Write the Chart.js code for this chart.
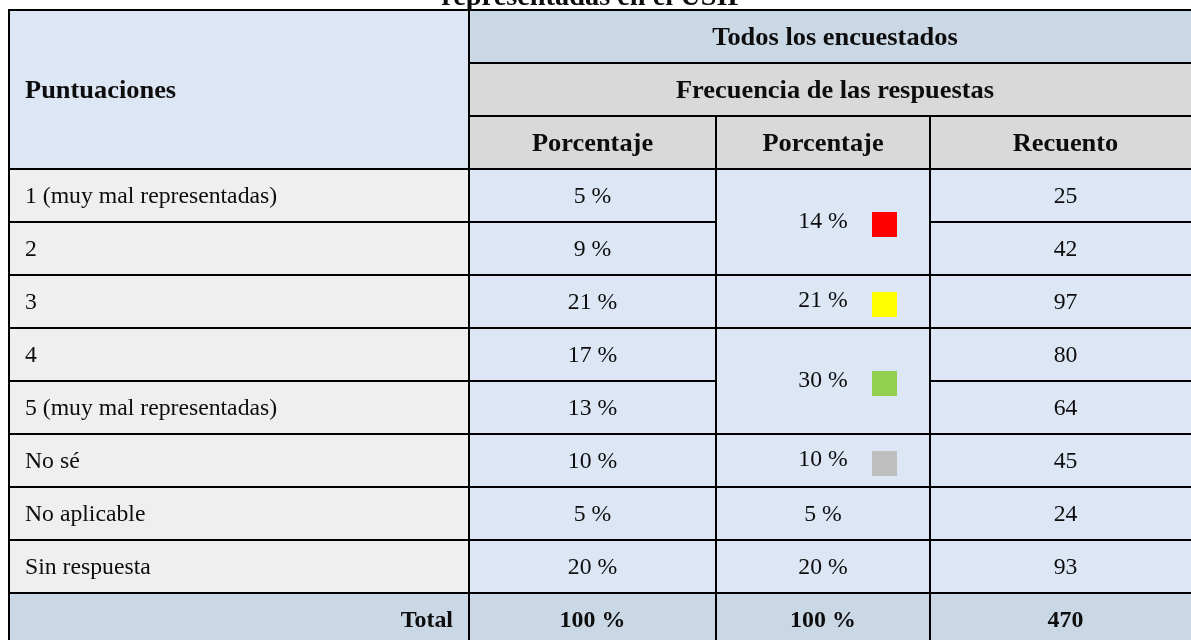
<!DOCTYPE html>
<html><head><meta charset="utf-8">
<script src="https://cdn.jsdelivr.net/npm/chart.js@4.4.1/dist/chart.umd.min.js"></script>
<style>
html,body{margin:0;padding:0;background:#fff;overflow:hidden;width:1191px;height:640px}
#wrap{position:absolute;left:0;top:0;width:1215px;height:660px}
</style>
</head><body><div id="wrap"><canvas id="c"></canvas></div>
<script>
// ---------- data ----------
const tituloVisible = 'representadas en el USIP';
const encabezadoGrupo = 'Todos los encuestados';
const encabezadoFrecuencia = 'Frecuencia de las respuestas';
const encabezadoFilas = 'Puntuaciones';
const encabezadosColumnas = ['Porcentaje', 'Porcentaje', 'Recuento'];
const categorias = ['1 (muy mal representadas)', '2', '3', '4', '5 (muy mal representadas)', 'No sé', 'No aplicable', 'Sin respuesta'];
const porcentajes = [5, 9, 21, 17, 13, 10, 5, 20];
const porcentajesAgrupados = [14, 21, 30, 10, 5, 20];
const filasPorGrupo = [2, 1, 2, 1, 1, 1];
const coloresGrupo = ['#FF0000', '#FFFF00', '#92D050', '#BFBFBF', null, null];
const recuentos = [25, 42, 97, 80, 64, 45, 24, 93];
const etiquetaTotal = 'Total';
const totalPorcentaje = 100;
const totalRecuento = 470;

// ---------- layout / style ----------
const COL_EDGES = [0, 460, 707, 921, 1192];
const BG = { light: '#DCE6F4', head: '#CAD7E5', gray: '#D9D9D9', label: '#EFEFEF' };
const FONT = 'Liberation Serif';
const BODY = { size: 22.8, sx: 1.04, weight: 'normal' };
const HEAD = { size: 25.4, sx: 1.04, weight: 'bold' };
const TOT = { size: 23, sx: 1.04, weight: 'bold' };
const TITLE = { size: 27, sx: 1.05, weight: 'bold' };
const HEADER_ROWS = 3;

const rowLabels = ['enc1', 'enc2', 'enc3', ...categorias, etiquetaTotal];

const cells = [];
cells.push({ r0: 0, r1: 2, c0: 0, c1: 0, text: encabezadoFilas, st: HEAD, align: 'left', bg: BG.light });
cells.push({ r0: 0, r1: 0, c0: 1, c1: 3, text: encabezadoGrupo, st: HEAD, align: 'center', bg: BG.head });
cells.push({ r0: 1, r1: 1, c0: 1, c1: 3, text: encabezadoFrecuencia, st: HEAD, align: 'center', bg: BG.gray });
encabezadosColumnas.forEach((t, i) => cells.push({ r0: 2, r1: 2, c0: i + 1, c1: i + 1, text: t, st: HEAD, align: 'center', bg: BG.gray }));
categorias.forEach((cat, i) => {
  const r = HEADER_ROWS + i;
  cells.push({ r0: r, r1: r, c0: 0, c1: 0, text: cat, st: BODY, align: 'left', bg: BG.label });
  cells.push({ r0: r, r1: r, c0: 1, c1: 1, text: porcentajes[i] + ' %', st: BODY, align: 'center', bg: BG.light });
  cells.push({ r0: r, r1: r, c0: 3, c1: 3, text: String(recuentos[i]), st: BODY, align: 'center', bg: BG.light });
});
let rr = HEADER_ROWS;
porcentajesAgrupados.forEach((v, g) => {
  cells.push({ r0: rr, r1: rr + filasPorGrupo[g] - 1, c0: 2, c1: 2, text: v + ' %', st: BODY, align: 'center', bg: BG.light, marker: coloresGrupo[g] });
  rr += filasPorGrupo[g];
});
const rt = rowLabels.length - 1;
cells.push({ r0: rt, r1: rt, c0: 0, c1: 0, text: etiquetaTotal, st: TOT, align: 'right', bg: BG.head });
cells.push({ r0: rt, r1: rt, c0: 1, c1: 1, text: totalPorcentaje + ' %', st: TOT, align: 'center', bg: BG.head });
cells.push({ r0: rt, r1: rt, c0: 2, c1: 2, text: totalPorcentaje + ' %', st: TOT, align: 'center', bg: BG.head });
cells.push({ r0: rt, r1: rt, c0: 3, c1: 3, text: String(totalRecuento), st: TOT, align: 'center', bg: BG.head });

// datasets: one per column, floating bars spanning each cell
const datasets = [0, 1, 2, 3].map(c => {
  const data = rowLabels.map(() => null);
  const colors = rowLabels.map(() => 'rgba(0,0,0,0)');
  cells.filter(cl => cl.c0 === c).forEach(cl => {
    for (let r = cl.r0; r <= cl.r1; r++) {
      data[r] = [COL_EDGES[cl.c0], COL_EDGES[cl.c1 + 1]];
      colors[r] = cl.bg;
    }
  });
  return { data, backgroundColor: colors, borderWidth: 0, grouped: false, categoryPercentage: 1, barPercentage: 1 };
});

function drawText(ctx, text, x, y, align, st) {
  ctx.save();
  ctx.translate(x, y);
  ctx.scale(st.sx, 1);
  ctx.font = st.weight + ' ' + st.size + 'px ' + FONT;
  ctx.textAlign = align;
  ctx.textBaseline = 'alphabetic';
  ctx.fillStyle = '#0d0d0d';
  ctx.fillText(text, 0, 0);
  ctx.restore();
}

const tablePlugin = {
  id: 'tablePlugin',
  afterDatasetsDraw(chart) {
    const ctx = chart.ctx, xs = chart.scales.x, ys = chart.scales.y;
    ctx.save();
    ctx.strokeStyle = '#000';
    ctx.lineWidth = 2;
    cells.forEach(cl => {
      const x0 = Math.round(xs.getPixelForValue(COL_EDGES[cl.c0]));
      const x1 = Math.round(xs.getPixelForValue(COL_EDGES[cl.c1 + 1]));
      const ya = ys.getPixelForValue(cl.r0 - 0.5), yb = ys.getPixelForValue(cl.r1 + 0.5);
      const y0 = Math.round(Math.min(ya, yb)), y1 = Math.round(Math.max(ya, yb));
      ctx.strokeRect(x0, y0, x1 - x0, y1 - y0);
    });
    cells.forEach(cl => {
      const x0 = xs.getPixelForValue(COL_EDGES[cl.c0]);
      const x1 = xs.getPixelForValue(COL_EDGES[cl.c1 + 1]);
      const ya = ys.getPixelForValue(cl.r0 - 0.5), yb = ys.getPixelForValue(cl.r1 + 0.5);
      const cy = (ya + yb) / 2;
      let tx, ty = cy + 0.335 * cl.st.size;
      if (cl.align === 'left') tx = x0 + 16;
      else if (cl.align === 'right') tx = x1 - 16;
      else tx = (x0 + x1) / 2;
      if (cl.marker) {
        ty -= 2;
        ctx.fillStyle = cl.marker;
        ctx.fillRect(Math.round(x0 + 156), Math.round(cy - 10), 25, 25);
      }
      drawText(ctx, cl.text, tx, ty, cl.align, cl.st);
    });
    drawText(ctx, tituloVisible, 593, 5, 'center', TITLE);
    ctx.restore();
  }
};

new Chart(document.getElementById('c'), {
  type: 'bar',
  data: { labels: rowLabels, datasets },
  options: {
    indexAxis: 'y',
    responsive: true,
    maintainAspectRatio: false,
    animation: false,
    layout: { padding: { left: 9, top: 10, right: 14, bottom: 14 } },
    plugins: { legend: { display: false }, tooltip: { enabled: false }, title: { display: false } },
    scales: {
      x: { type: 'linear', min: 0, max: COL_EDGES[COL_EDGES.length - 1], display: false, grid: { display: false } },
      y: { type: 'category', display: false, offset: true, grid: { display: false } }
    }
  },
  plugins: [tablePlugin]
});
</script>
</body></html>
